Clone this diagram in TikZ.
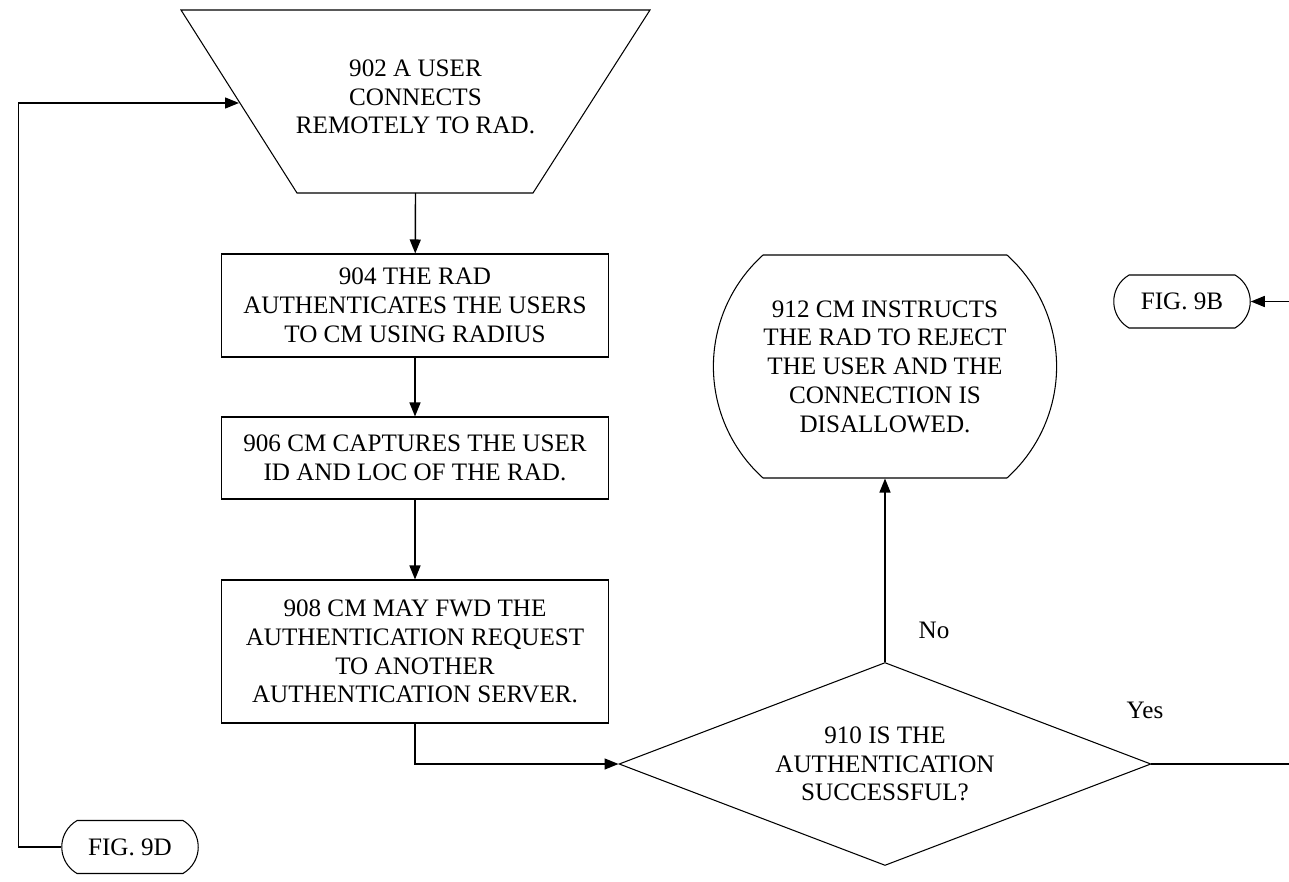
\documentclass[tikz,border=0pt]{standalone}
\usepackage{fontspec}
\setmainfont{Liberation Serif}
\usetikzlibrary{shapes,arrows.meta,positioning}

\begin{document}
\begin{tikzpicture}[x=0.02cm,y=-0.02cm
        , every node/.style={font=\fontsize{14.3}{16.4}\selectfont, align=center}
        , stepbox/.style={draw, line width=0.6pt, minimum width=7.76cm, inner sep=2pt}
        , flow/.style={line width=0.8pt, -{Triangle[length=2.8mm,width=2.2mm]}}
        , figlink/.style={draw, line width=0.6pt, rounded rectangle, rounded rectangle arc length=120
            , minimum width=2.8cm, minimum height=1.06cm, inner sep=1pt}
        ]
        \useasboundingbox (0,0) rectangle (1289,882);

        \draw[line width=0.6pt] (181,10) -- (650,10) -- (533,193) -- (297,193) -- cycle;
        \node (n902) at (415.5,97) {902 A USER\\CONNECTS\\REMOTELY TO RAD.};
        \coordinate (n902bot) at (415.5,193);
        \coordinate (n902in) at (239,103);

        \node[stepbox, minimum height=2.06cm] (n904) at (415,305.5)
            {904 THE RAD\\AUTHENTICATES THE USERS\\TO CM USING RADIUS};
        \node[stepbox, minimum height=1.64cm] (n906) at (415,458)
            {906 CM CAPTURES THE USER\\ID AND LOC OF THE RAD.};
        \node[stepbox, minimum height=2.86cm] (n908) at (415,651.5)
            {908 CM MAY FWD THE\\AUTHENTICATION REQUEST\\TO ANOTHER\\AUTHENTICATION SERVER.};

        \node[diamond
        , draw
        , line width=0.6pt
        , aspect=2.6
        , minimum width=10.64cm
        , minimum height=4.06cm
        , inner sep=0pt
        ] (d910) at (885,764) {910 IS THE\\AUTHENTICATION\\SUCCESSFUL?};

        \node[rounded rectangle
        , draw
        , line width=0.6pt
        , rounded rectangle arc length=96
        , minimum width=7.1cm
        , minimum height=4.46cm
        ] (n912) at (885,366.5)
            {912 CM INSTRUCTS\\THE RAD TO REJECT\\THE USER AND THE\\CONNECTION IS\\DISALLOWED.};

        \node[figlink] (fig9b) at (1182,301.5) {FIG. 9B};
        \node[figlink] (fig9d) at (130,847) {FIG. 9D};
        \coordinate (fig9bin) at (1289,301.5);
        \coordinate (yesout) at (1289,764);

        \node (no) at (934,630) {No};
        \node (yes) at (1145,710) {Yes};

        \draw[flow] (n902bot) -- (n904);
        \draw[flow] (n904) -- (n906);
        \draw[flow] (n906) -- (n908);
        \draw[flow] (n908.south) |- (d910.west);
        \draw[flow] (d910.north) -- (n912.south);
        \draw[line width=0.8pt] (d910.east) -- (yesout);
        \draw[flow] (fig9bin) -- (fig9b.east);
        \draw[flow] (fig9d.west) -- ++(-43,0) |- (n902in);
    \end{tikzpicture}
\end{document}
